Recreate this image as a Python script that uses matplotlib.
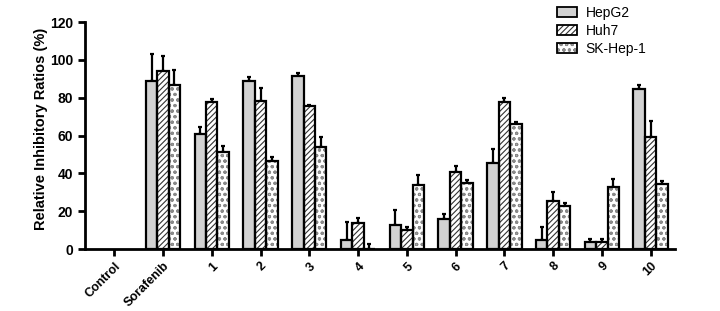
import numpy as np
import matplotlib
matplotlib.use("Agg")
import matplotlib.pyplot as plt

plt.rcParams["font.family"] = ["Liberation Sans", "DejaVu Sans"]
plt.rcParams["hatch.linewidth"] = 0.8

groups = ["Control", "Sorafenib", "1", "2", "3", "4", "5", "6", "7", "8", "9", "10"]
series = ["HepG2", "Huh7", "SK-Hep-1"]

hepg2 = [0, 89, 61, 89, 91.5, 5, 13, 16, 45.5, 5, 3.5, 84.5]
hepg2_err = [0, 14, 3.5, 2, 1.5, 9.5, 7.5, 2.5, 7.5, 6.5, 2, 2]
huh7 = [0, 94, 78, 78.5, 75.5, 14, 10, 40.5, 77.5, 25.5, 3.5, 59.5]
huh7_err = [0, 8, 1.5, 6.5, 0.5, 2.5, 1.5, 3.5, 2.5, 4.5, 2, 8]
skhep = [0, 87, 51.5, 46.5, 54, 0, 34, 35, 66, 23, 33, 34.5]
skhep_err = [0, 7.5, 3, 2, 5, 2.5, 5, 1.5, 1, 1.5, 4, 1.5]

values = [hepg2, huh7, skhep]
errors = [hepg2_err, huh7_err, skhep_err]
faces = ["#d2d2d2", "white", "white"]
hatches = [None, "//////", "ooo"]
hatch_cols = ["black", "#333333", "#8a8a8a"]

fig = plt.figure(figsize=(7.2, 3.11), dpi=100)
ax = fig.add_axes([0.118, 0.199, 0.8195, 0.73])

x = np.arange(len(groups))
w = 0.235
handles = []
for k, (vals, errs) in enumerate(zip(values, errors)):
    pos = x + (k - 1) * w
    vals = np.array(vals, dtype=float)
    errs = np.array(errs, dtype=float)
    show = np.arange(len(groups)) > 0
    # fill + hatch in its own colour, then a black outline on top
    ax.bar(pos[show], vals[show], w, color=faces[k], edgecolor=hatch_cols[k],
           linewidth=0, hatch=hatches[k], zorder=2)
    ax.bar(pos[show], vals[show], w, fill=False, edgecolor="black",
           linewidth=1.6, zorder=3)
    ax.errorbar(pos[show], vals[show], yerr=[np.zeros(show.sum()), errs[show]],
                fmt="none", ecolor="black", elinewidth=1.6, capsize=1.5,
                capthick=1.6, zorder=1)
    h = plt.Rectangle((0, 0), 1, 1, facecolor=faces[k], edgecolor=hatch_cols[k],
                      hatch=hatches[k], linewidth=0)
    o = plt.Rectangle((0, 0), 1, 1, fill=False, edgecolor="black", linewidth=1.3)
    handles.append((h, o))

ax.set_xlim(-0.6, len(groups) - 0.5)
ax.set_ylim(0, 120)
ax.set_yticks(np.arange(0, 121, 20))
ax.set_xticks(x)
ax.set_xticklabels(groups, rotation=45, ha="right", rotation_mode="anchor",
                   fontsize=9, fontweight="bold")
for lab in ax.get_yticklabels():
    lab.set_fontweight("bold")
    lab.set_fontsize(10)
ax.tick_params(axis="both", width=2, length=5, direction="out")
ax.tick_params(axis="x", pad=3)
ax.set_ylabel("Relative Inhibitory Ratios (%)", fontsize=10.5, fontweight="bold")
ax.yaxis.set_label_coords(-0.062, 0.53)
ax.spines[["top", "right"]].set_visible(False)
ax.spines[["left", "bottom"]].set_linewidth(2)

ax.legend(handles, series, loc="upper left", bbox_to_anchor=(0.778, 1.125),
          frameon=False, fontsize=10, handlelength=1.5, handleheight=0.7,
          labelspacing=0.28, handletextpad=0.6)

fig.savefig("out.png", dpi=100)
